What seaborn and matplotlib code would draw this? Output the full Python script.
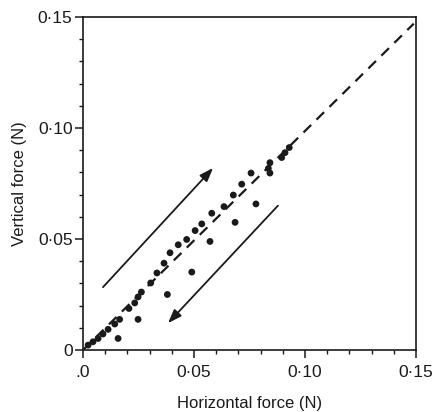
import matplotlib
matplotlib.use("Agg")
import matplotlib.pyplot as plt
import seaborn as sns
import pandas as pd

# ---- data ----
load_x = [0.0023, 0.0045, 0.0068, 0.0090, 0.0113, 0.0143, 0.0165, 0.0207, 0.0233,
          0.0248, 0.0263, 0.0305, 0.0333, 0.0365, 0.0392, 0.0429, 0.0467, 0.0505,
          0.0535, 0.0580, 0.0635, 0.0677, 0.0715, 0.0757, 0.0842, 0.0910, 0.0929]
load_y = [0.0022, 0.0037, 0.0052, 0.0072, 0.0093, 0.0117, 0.0138, 0.0187, 0.0212,
          0.0239, 0.0261, 0.0302, 0.0347, 0.0391, 0.0438, 0.0474, 0.0498, 0.0538,
          0.0568, 0.0616, 0.0646, 0.0698, 0.0747, 0.0797, 0.0844, 0.0889, 0.0912]

unload_x = [0.0895, 0.0835, 0.0842, 0.0779, 0.0685, 0.0572, 0.0490, 0.0380, 0.0248, 0.0158]
unload_y = [0.0867, 0.0818, 0.0797, 0.0658, 0.0575, 0.0489, 0.0351, 0.0250, 0.0138, 0.0052]

identity_x = [0.0, 0.149]
identity_y = [0.0, 0.147]

arrow_up_start = (0.0090, 0.0283)
arrow_up_end = (0.0586, 0.0820)
arrow_down_start = (0.0878, 0.0650)
arrow_down_end = (0.0383, 0.0121)

major_ticks = [0.0, 0.05, 0.10, 0.15]
x_tick_labels = [".0", "0·05", "0·10", "0·15"]
y_tick_labels = ["0", "0·05", "0·10", "0·15"]
x_label = "Horizontal force (N)"
y_label = "Vertical force (N)"

# ---- build table ----
df = pd.DataFrame({
    "x": load_x + unload_x,
    "y": load_y + unload_y,
    "phase": ["loading"] * len(load_x) + ["unloading"] * len(unload_x),
})
ref = pd.DataFrame({"x": identity_x, "y": identity_y})

sns.set_theme(style="ticks")
plt.rcParams["font.family"] = ["Liberation Sans", "DejaVu Sans"]

ink = "#1a1a1a"
fig = plt.figure(figsize=(4.32, 4.12), dpi=100)
ax = fig.add_axes([83 / 432, 1 - 350 / 412, (416 - 83) / 432, (350 - 17) / 412])

sns.lineplot(data=ref, x="x", y="y", ax=ax, color=ink, lw=1.6,
             linestyle=(0, (4.8, 3.4)), legend=False)
sns.scatterplot(data=df, x="x", y="y", hue="phase",
                palette={"loading": ink, "unloading": ink},
                s=24, edgecolor="none", ax=ax, legend=False, zorder=3)

arrow_kw = dict(arrowstyle="-|>,head_length=0.55,head_width=0.2",
                color=ink, lw=1.3, mutation_scale=15, shrinkA=0, shrinkB=0)
ax.annotate("", xy=arrow_up_end, xytext=arrow_up_start, arrowprops=arrow_kw)
ax.annotate("", xy=arrow_down_end, xytext=arrow_down_start, arrowprops=arrow_kw)

ax.set_xlim(0, 0.15)
ax.set_ylim(0, 0.15)
ax.set_xticks(major_ticks)
ax.set_xticklabels(x_tick_labels)
ax.set_yticks(major_ticks)
ax.set_yticklabels(y_tick_labels)
ax.set_xticks([i / 100 for i in range(16)], minor=True)
ax.set_yticks([i / 100 for i in range(16)], minor=True)

ax.tick_params(which="major", direction="out", length=5.5, width=1.1,
               labelsize=12.5, colors=ink)
ax.tick_params(axis="x", which="major", pad=5)
ax.tick_params(axis="y", which="major", pad=2)
ax.tick_params(which="minor", direction="out", length=3, width=1.0, colors=ink)

for sp in ax.spines.values():
    sp.set_visible(True)
    sp.set_linewidth(1.2)
    sp.set_color(ink)

ax.set_xlabel(x_label, fontsize=12, color=ink, labelpad=12)
ax.set_ylabel(y_label, fontsize=12, color=ink, labelpad=8)

fig.savefig("out.png", dpi=100)
